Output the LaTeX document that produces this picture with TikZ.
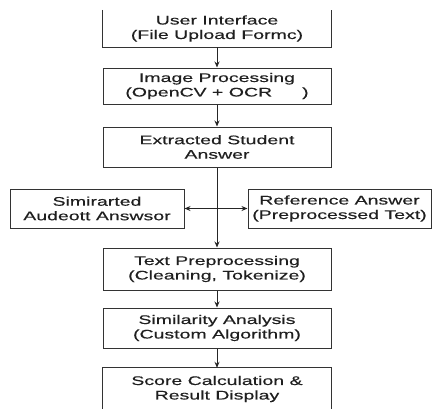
\documentclass[tikz,border=0pt]{standalone}
\usepackage{fontspec}
\setmainfont{Liberation Sans}[FakeStretch=1.56,FakeBold=0.4]
\usetikzlibrary{arrows.meta}
\begin{document}
\begin{tikzpicture}[x=1pt,y=-1pt,
  every node/.style={inner sep=0pt,align=center,font=\fontsize{12.5}{14.5}\selectfont,text=black!88},
  boxstyle/.style={draw=black!80,line width=1pt,minimum width=228pt},
  plain/.style={minimum width=228pt},
  conn/.style={draw=black!85,line width=1pt,-{Stealth[length=6pt,width=5pt]}},
  edge/.style={draw=black!80,line width=1pt}]
\useasboundingbox (0,0) rectangle (432,408);
\node[plain,minimum height=37pt] (B1) at (217,28.5) {User Interface\\(File Upload Formc)};
\draw[edge] (B1.north west) -- (B1.south west) -- (B1.south east) -- (B1.north east);
\node[boxstyle,minimum height=36pt] (B2) at (217,86) {Image Processing\\(OpenCV + OCR\hspace{30pt})};
\node[boxstyle,minimum height=40pt] (B3) at (217,147) {Extracted Student\\Answer};
\node[draw=black!80,line width=1pt,minimum width=174pt,minimum height=39pt] (L) at (97,208.5) {Simirarted\\Audeott Answsor};
\node[draw=black!80,line width=1pt,minimum width=183pt,minimum height=39pt] (R) at (339.5,208.5) {Reference Answer\\(Preprocessed Text)};
\node[boxstyle,minimum height=42pt] (B4) at (217,269) {Text Preprocessing\\(Cleaning, Tokenize)};
\node[boxstyle,minimum height=40pt] (B5) at (217,328) {Similarity Analysis\\(Custom Algorithm)};
\node[plain,minimum height=42pt] (B6) at (217,389) {Score Calculation \&\\Result Display};
\draw[edge] (B6.south west) -- (B6.north west) -- (B6.north east) -- (B6.south east);
\draw[conn] (B1) -- (B2);
\draw[conn] (B2) -- (B3);
\draw[conn] (B3) -- (B4);
\draw[conn] (B4) -- (B5);
\draw[conn] (B5) -- (B6);
\draw[conn,{Stealth[length=6pt,width=5pt]}-{Stealth[length=6pt,width=5pt]}] (L) -- (R);
\end{tikzpicture}
\end{document}
